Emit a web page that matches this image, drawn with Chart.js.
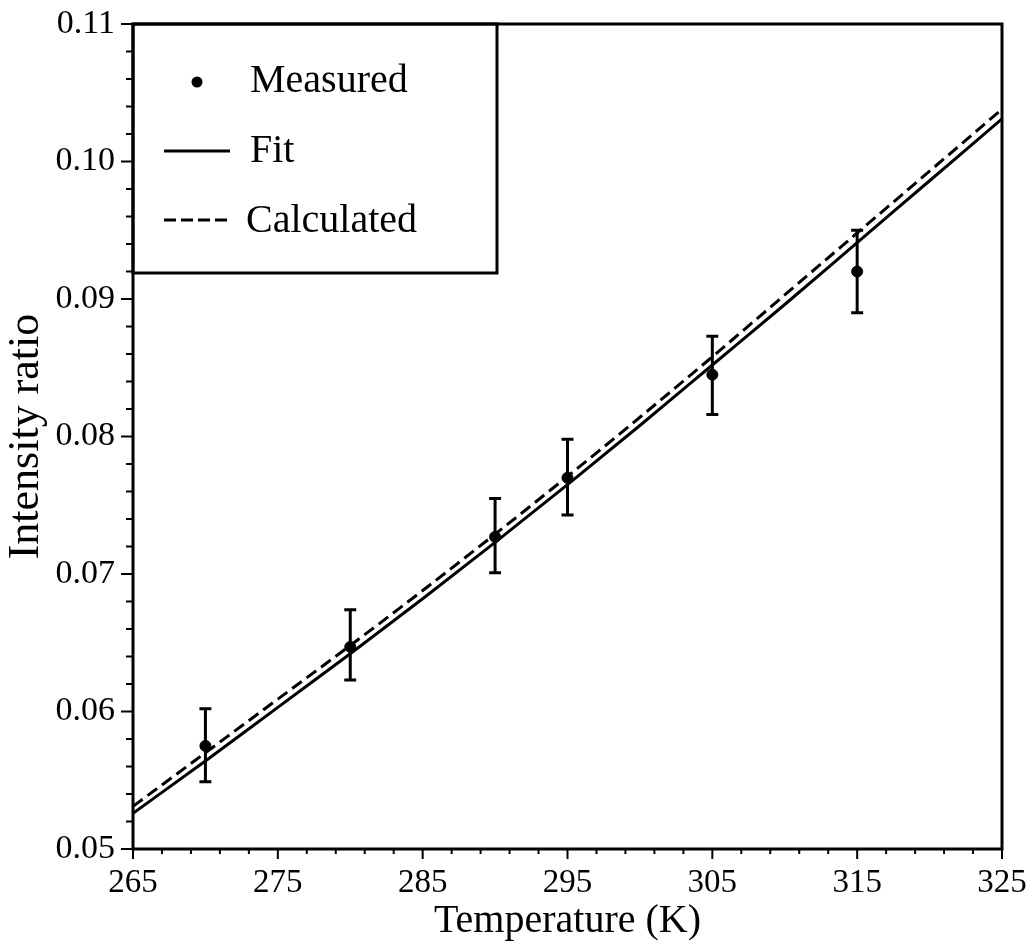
<!DOCTYPE html>
<html>
<head>
<meta charset="utf-8">
<script src="https://cdn.jsdelivr.net/npm/chart.js@4/dist/chart.umd.min.js"></script>
<style>
  body { margin: 0; background: #fff; }
  canvas { display: block; }
</style>
</head>
<body>
<canvas id="main_chart" width="1029" height="951"></canvas>
<script>
// measured points with error bars
const measuredT = [270, 280, 290, 295, 305, 315];
const measuredRatio = [0.0575, 0.0647, 0.0727, 0.0770, 0.0845, 0.0920];
const errHigh = [0.0602, 0.0674, 0.0755, 0.0798, 0.0873, 0.0950];
const errLow = [0.0549, 0.0623, 0.0701, 0.0743, 0.0816, 0.0890];

// fit and calculated curves
const curveT = [265, 270, 275, 280, 285, 290, 295, 300, 305, 310, 315, 320, 325];
const fitRatio = [0.0526, 0.0564, 0.0603, 0.0642, 0.0682, 0.0723, 0.0765, 0.0808, 0.0852, 0.0896, 0.0941, 0.0986, 0.1031];
const calcRatio = [0.0531, 0.0570, 0.0609, 0.0648, 0.0688, 0.0729, 0.0771, 0.0814, 0.0858, 0.0903, 0.0948, 0.0993, 0.1038];

// axes
const xMajorTicks = [265, 275, 285, 295, 305, 315, 325];
const xMinorStep = 2;
const yMajorTicks = [0.05, 0.06, 0.07, 0.08, 0.09, 0.10, 0.11];
const yMinorStep = 0.002;

const serif = '"Liberation Serif", "Times New Roman", serif';

function toPoints(xs, ys) {
  return xs.map((v, i) => ({ x: v, y: ys[i] }));
}

function isMajor(value, majors) {
  return majors.some(m => Math.abs(m - value) < 1e-9);
}

// build minor+major tick list between the first and last major tick
function buildTicks(majors, step) {
  const ticks = [];
  const first = majors[0];
  const last = majors[majors.length - 1];
  const n = Math.round((last - first) / step);
  for (let i = 0; i <= n; i++) {
    ticks.push({ value: +(first + i * step).toFixed(6) });
  }
  return ticks;
}

// frame, tick marks, error bars and the boxed legend
const decorations = {
  id: 'decorations',
  afterDatasetsDraw(chart) {
    const { ctx, chartArea: a, scales: { x, y } } = chart;
    ctx.save();
    ctx.strokeStyle = '#000';
    ctx.fillStyle = '#000';

    // error bars
    ctx.lineWidth = 3;
    measuredT.forEach((t, i) => {
      const px = x.getPixelForValue(t);
      const top = y.getPixelForValue(errHigh[i]);
      const bottom = y.getPixelForValue(errLow[i]);
      ctx.beginPath();
      ctx.moveTo(px, top);
      ctx.lineTo(px, bottom);
      ctx.moveTo(px - 6, top);
      ctx.lineTo(px + 6, top);
      ctx.moveTo(px - 6, bottom);
      ctx.lineTo(px + 6, bottom);
      ctx.stroke();
    });

    // tick marks
    ctx.lineWidth = 2;
    y.ticks.forEach(t => {
      const py = y.getPixelForValue(t.value);
      const len = isMajor(t.value, yMajorTicks) ? 12 : 7;
      ctx.beginPath();
      ctx.moveTo(a.left, py);
      ctx.lineTo(a.left - len, py);
      ctx.stroke();
    });
    x.ticks.forEach(t => {
      const px = x.getPixelForValue(t.value);
      const len = isMajor(t.value, xMajorTicks) ? 10 : 5;
      ctx.beginPath();
      ctx.moveTo(px, a.bottom);
      ctx.lineTo(px, a.bottom + len);
      ctx.stroke();
    });

    // plot frame
    ctx.lineWidth = 3;
    ctx.strokeRect(a.left, a.top, a.right - a.left, a.bottom - a.top);

    // legend box
    const lx = a.left, ly = a.top;
    ctx.strokeRect(lx, ly, 364, 249);
    ctx.font = '40px ' + serif;
    ctx.textBaseline = 'alphabetic';
    ctx.textAlign = 'left';

    ctx.beginPath();
    ctx.arc(lx + 64, ly + 58, 5.5, 0, Math.PI * 2);
    ctx.fill();
    ctx.fillText('Measured', lx + 117, ly + 68);

    ctx.lineWidth = 3;
    ctx.beginPath();
    ctx.moveTo(lx + 31, ly + 127);
    ctx.lineTo(lx + 97, ly + 127);
    ctx.stroke();
    ctx.fillText('Fit', lx + 117, ly + 138);

    ctx.setLineDash([12, 5]);
    ctx.beginPath();
    ctx.moveTo(lx + 31, ly + 196);
    ctx.lineTo(lx + 97, ly + 196);
    ctx.stroke();
    ctx.setLineDash([]);
    ctx.fillText('Calculated', lx + 113, ly + 208);

    ctx.restore();
  }
};

Chart.defaults.color = '#000';
Chart.defaults.font.family = serif;

const ctx = document.getElementById('main_chart');
new Chart(ctx, {
  type: 'scatter',
  data: {
    datasets: [
      {
        label: 'Measured',
        data: toPoints(measuredT, measuredRatio),
        backgroundColor: '#000',
        borderColor: '#000',
        pointRadius: 5.5,
        pointHoverRadius: 5.5,
        order: 0
      },
      {
        label: 'Fit',
        type: 'line',
        data: toPoints(curveT, fitRatio),
        borderColor: '#000',
        borderWidth: 3,
        pointRadius: 0,
        cubicInterpolationMode: 'monotone',
        fill: false,
        order: 2
      },
      {
        label: 'Calculated',
        type: 'line',
        data: toPoints(curveT, calcRatio),
        borderColor: '#000',
        borderWidth: 3,
        borderDash: [12, 6],
        pointRadius: 0,
        cubicInterpolationMode: 'monotone',
        fill: false,
        order: 1
      }
    ]
  },
  options: {
    responsive: false,
    animation: false,
    devicePixelRatio: 1,
    layout: {
      padding: { left: 0, top: 24, right: 27, bottom: 0 }
    },
    plugins: {
      legend: { display: false },
      tooltip: { enabled: false }
    },
    scales: {
      x: {
        type: 'linear',
        min: xMajorTicks[0],
        max: xMajorTicks[xMajorTicks.length - 1],
        afterBuildTicks: scale => { scale.ticks = buildTicks(xMajorTicks, xMinorStep); },
        afterFit: scale => {
          scale.height = 102;
          scale.paddingLeft = 0;
          scale.paddingRight = 0;
        },
        grid: { display: false, drawTicks: false },
        border: { display: false },
        ticks: {
          autoSkip: false,
          maxRotation: 0,
          padding: 15,
          font: { size: 33, family: serif },
          callback: value => isMajor(value, xMajorTicks) ? String(Math.round(value)) : ''
        },
        title: {
          display: true,
          text: 'Temperature (K)',
          font: { size: 40, family: serif },
          padding: { top: 0, bottom: 6 }
        }
      },
      y: {
        type: 'linear',
        min: yMajorTicks[0],
        max: yMajorTicks[yMajorTicks.length - 1],
        afterBuildTicks: scale => { scale.ticks = buildTicks(yMajorTicks, yMinorStep); },
        afterFit: scale => {
          scale.width = 133;
          scale.paddingTop = 0;
          scale.paddingBottom = 0;
        },
        grid: { display: false, drawTicks: false },
        border: { display: false },
        ticks: {
          autoSkip: false,
          padding: 18,
          font: { size: 34, family: serif },
          callback: value => isMajor(value, yMajorTicks) ? value.toFixed(2) : ''
        },
        title: {
          display: true,
          text: 'Intensity ratio',
          font: { size: 44, family: serif },
          padding: { top: 0, bottom: 0 }
        }
      }
    }
  },
  plugins: [decorations]
});
</script>
</body>
</html>
